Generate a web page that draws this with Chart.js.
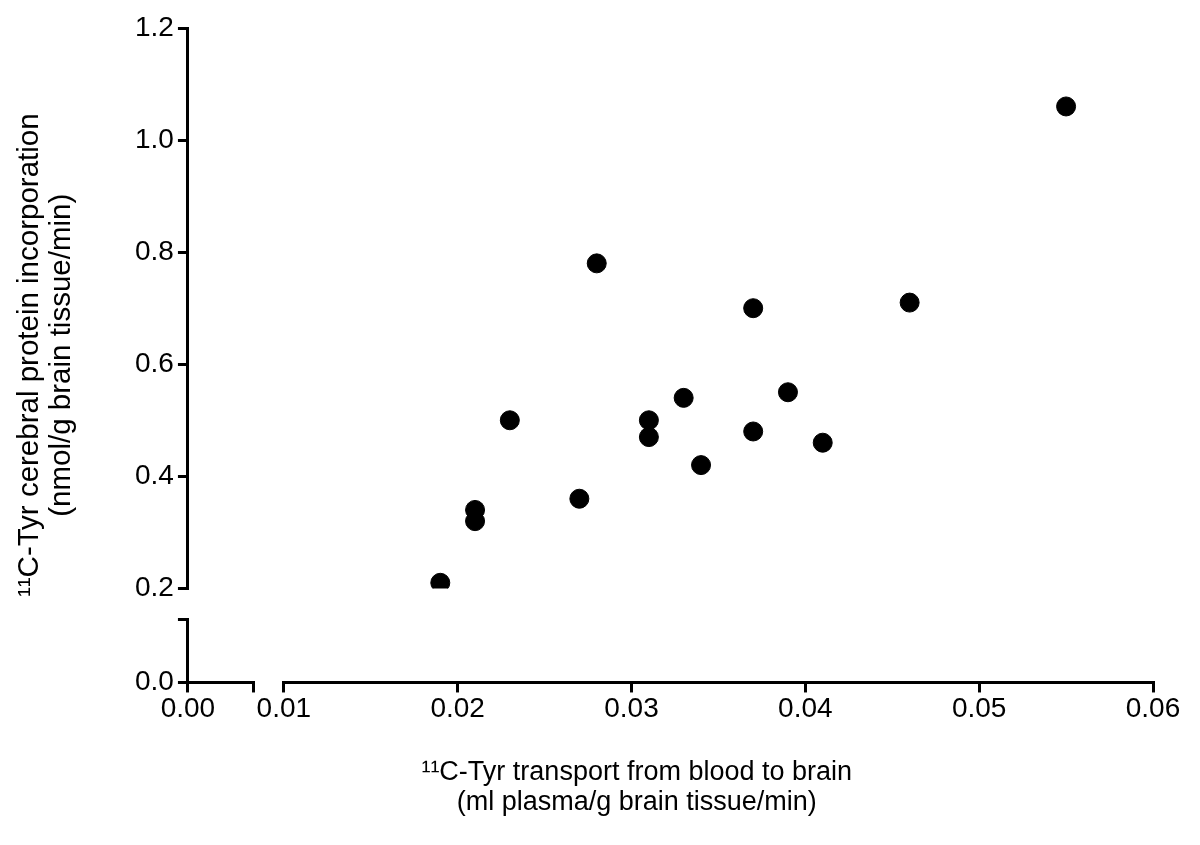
<!DOCTYPE html>
<html lang="en">
<head>
<meta charset="utf-8">
<title>11C-Tyr transport vs protein incorporation</title>
<script src="https://cdn.jsdelivr.net/npm/chart.js@4/dist/chart.umd.min.js"></script>
<style>
    html, body { margin: 0; padding: 0; background: #fff; }
    #grafico { display: block; }
</style>
</head>
<body>
<canvas id="grafico" width="1200" height="845"></canvas>
<script>
'use strict';

// Transporte sangre -> cerebro (ml plasma/g tejido/min)
const transporte = [0.019, 0.021, 0.021, 0.023, 0.027, 0.028, 0.031, 0.031,
    0.033, 0.034, 0.037, 0.037, 0.039, 0.041, 0.046, 0.055];
// Incorporacion proteica (nmol/g tejido/min)
const incorporacion = [0.21, 0.34, 0.32, 0.50, 0.36, 0.78, 0.50, 0.47,
    0.54, 0.42, 0.70, 0.48, 0.55, 0.46, 0.71, 1.06];

// Etiquetas de los ejes (ejes cortados)
const ticksX = [0.01, 0.02, 0.03, 0.04, 0.05, 0.06];
const ticksXCorto = [0, 0.004];
const ticksY = [0.2, 0.4, 0.6, 0.8, 1.0, 1.2];
const ticksYCorto = [0, 0.11];

// los espacios finales desplazan el titulo centrado hacia la izquierda
const tituloX = ['\u00B9\u00B9C-Tyr transport from blood to brain         ',
    '(ml plasma/g brain tissue/min)         '];
const tituloY = ['\u00B9\u00B9C-Tyr cerebral protein incorporation',
    '(nmol/g brain tissue/min)'];

const NEGRO = '#000';
const FAMILIA = 'Liberation Sans, Arial, sans-serif';
const fuenteTicks = { family: FAMILIA, size: 28 };

/**
 * Opciones comunes de un tramo de eje con sus marcas hacia fuera.
 */
function tramo(extra, relleno, formato) {
    return Object.assign({
        type: 'linear',
        border: { display: true, color: NEGRO, width: 3 },
        grid: { drawOnChartArea: false, drawTicks: true, tickLength: 10, color: NEGRO, lineWidth: 3 },
        ticks: { color: NEGRO, font: fuenteTicks, padding: relleno, maxRotation: 0, autoSkip: false, callback: formato }
    }, extra);
}

/**
 * Hueco invisible entre los dos tramos de un eje cortado.
 */
function hueco(extra) {
    return Object.assign({
        type: 'linear',
        min: 0,
        max: 1,
        border: { display: false },
        grid: { display: false },
        ticks: { display: false }
    }, extra);
}

function fijarTicks(valores) {
    return axis => { axis.ticks = valores.map(v => ({ value: v })); };
}

const ctx = document.getElementById('grafico').getContext('2d');

new Chart(ctx, {
    type: 'scatter',
    data: {
        datasets: [{
            data: transporte.map((x, i) => ({ x: x, y: incorporacion[i] })),
            xAxisID: 'x',
            yAxisID: 'y',
            backgroundColor: NEGRO,
            borderColor: NEGRO,
            pointRadius: 9.5,
            pointHoverRadius: 9.5
        }]
    },
    options: {
        responsive: false,
        animation: false,
        events: [],
        layout: { padding: { top: 28, right: 47, bottom: 27, left: 6 } },
        plugins: {
            legend: { display: false },
            tooltip: { enabled: false },
            title: {
                display: true,
                position: 'left',
                fullSize: false,
                text: tituloY,
                color: NEGRO,
                font: { family: FAMILIA, size: 29.5, weight: 'normal', lineHeight: 1.085 },
                padding: { top: 8, bottom: 53 }
            },
            subtitle: {
                display: true,
                position: 'bottom',
                fullSize: false,
                text: tituloX,
                color: NEGRO,
                font: { family: FAMILIA, size: 27, weight: 'normal', lineHeight: 1.11 },
                padding: { top: 32, bottom: 0 }
            }
        },
        scales: {
            x0: tramo({
                position: 'bottom', stack: 'ejeX', stackWeight: 66, weight: 1,
                min: ticksXCorto[0], max: ticksXCorto[1],
                afterBuildTicks: fijarTicks(ticksXCorto)
            }, 0, v => (v === 0 ? '0.00' : '')),
            xHueco: hueco({ position: 'bottom', stack: 'ejeX', stackWeight: 30, weight: 2 }),
            x: tramo({
                position: 'bottom', stack: 'ejeX', stackWeight: 870, weight: 3,
                min: ticksX[0], max: ticksX[ticksX.length - 1],
                afterBuildTicks: fijarTicks(ticksX)
            }, 0, v => v.toFixed(2)),
            y: tramo({
                position: 'left', stack: 'ejeY', stackWeight: 560, weight: 3,
                min: ticksY[0], max: ticksY[ticksY.length - 1],
                afterBuildTicks: fijarTicks(ticksY)
            }, 4, v => v.toFixed(1)),
            yHueco: hueco({ position: 'left', stack: 'ejeY', stackWeight: 31, weight: 2 }),
            y0: tramo({
                position: 'left', stack: 'ejeY', stackWeight: 63, weight: 1,
                min: ticksYCorto[0], max: ticksYCorto[1],
                afterBuildTicks: fijarTicks(ticksYCorto)
            }, 4, v => (v === 0 ? '0.0' : ''))
        }
    }
});
</script>
</body>
</html>
